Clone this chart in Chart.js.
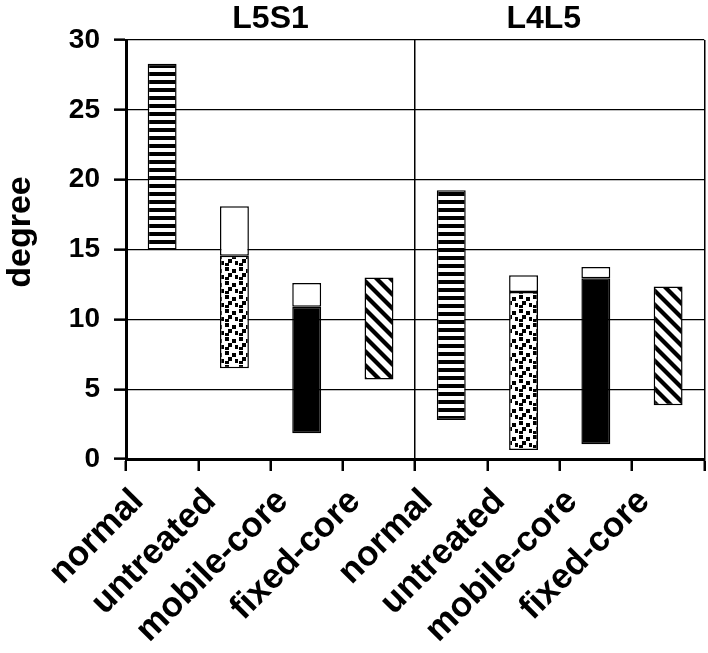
<!DOCTYPE html>
<html><head><meta charset="utf-8">
<script src="https://cdn.jsdelivr.net/npm/chart.js@4"></script>
<style>html,body{margin:0;padding:0;background:#fff}#wrap{width:708px;height:653px}</style>
</head><body><div id="wrap"><canvas id="c" width="708" height="653"></canvas></div>
<script>
// ---- data ----
const categories = ['normal','untreated','mobile-core','fixed-core','normal','untreated','mobile-core','fixed-core'];
const groupTitles = ['L5S1','L4L5'];
const lowValues  = [15.0, 6.5, 1.85, 5.7, 2.8, 0.65, 1.05, 3.85];
const midValues  = [28.3, 14.55, 10.9, 13.0, 19.25, 11.95, 12.95, 12.35];
const highValues = [null, 18.1, 12.6, null, null, 13.15, 13.75, null];
const yTickValues = [0, 5, 10, 15, 20, 25, 30];
const fillKinds = ['hstripes','dots','solid','diag','hstripes','dots','solid','diag'];
const axisTitle = 'degree';

// ---- fill patterns ----
function makeTile(w, h, draw) {
  const c = document.createElement('canvas'); c.width = w; c.height = h;
  const g = c.getContext('2d'); g.fillStyle = '#fff'; g.fillRect(0, 0, w, h);
  g.fillStyle = '#000'; g.strokeStyle = '#000'; draw(g, w, h);
  return document.getElementById('c').getContext('2d').createPattern(c, 'repeat');
}
const patterns = {
  hstripes: makeTile(8, 8, g => { g.fillRect(0, 0, 8, 4); }),
  dots: makeTile(14, 14, g => {
    [[1,1],[8,3],[4,7],[11,9],[1,11]].forEach(p => g.fillRect(p[0], p[1], 4, 4));
  }),
  solid: '#000',
  diag: makeTile(14, 14, g => {
    g.lineWidth = 4.2;
    for (let c = -14; c <= 14; c += 14) { g.beginPath(); g.moveTo(-2, c - 2); g.lineTo(16, c + 16); g.stroke(); }
  })
};

const titlesPlugin = {
  id: 'titles',
  afterDraw(chart) {
    const ctx = chart.ctx, xs = chart.scales.x;
    ctx.save();
    ctx.fillStyle = '#000';
    ctx.font = 'bold 32px "Liberation Sans", Arial, sans-serif';
    ctx.textAlign = 'center'; ctx.textBaseline = 'alphabetic';
    const at = [1.5, 5.28];
    groupTitles.forEach((t, i) => ctx.fillText(t, xs.getPixelForValue(at[i]), 28));
    ctx.font = 'bold 34px "Liberation Sans", Arial, sans-serif';
    ctx.translate(21, 232); ctx.rotate(-Math.PI / 2);
    ctx.textBaseline = 'middle';
    ctx.fillText(axisTitle, 0, 0);
    ctx.restore();
  }
};

new Chart(document.getElementById('c'), {
  type: 'bar',
  data: {
    labels: categories,
    datasets: [
      {
        label: 'range',
        data: categories.map((_, i) => [lowValues[i], midValues[i]]),
        backgroundColor: fillKinds.map(k => patterns[k]),
        borderColor: '#000', borderWidth: 1.5, borderSkipped: false,
        categoryPercentage: 1, barPercentage: 0.4
      },
      {
        label: 'upper',
        data: categories.map((_, i) => highValues[i] == null ? null : [midValues[i], highValues[i]]),
        backgroundColor: '#fff',
        borderColor: '#000', borderWidth: 1.5, borderSkipped: false,
        categoryPercentage: 1, barPercentage: 0.4
      }
    ]
  },
  options: {
    responsive: false, animation: false,
    layout: { padding: { top: 40, right: 3, left: 0, bottom: 0 } },
    plugins: { legend: { display: false }, tooltip: { enabled: false } },
    scales: {
      x: {
        stacked: true, offset: true,
        grid: {
          offset: true, drawOnChartArea: true,
          color: c => (c.index === 4 || c.index === undefined) ? '#000' : 'rgba(0,0,0,0)',
          lineWidth: 1.5, tickColor: '#000', tickLength: 12, tickWidth: 2.5
        },
        border: { color: '#000', width: 3 },
        ticks: {
          autoSkip: false, maxRotation: 45, minRotation: 45, labelOffset: -24, padding: 10,
          color: '#000', font: { family: '"Liberation Sans", Arial, sans-serif', weight: 'bold', size: 35 }
        },
        afterFit: s => { s.height = 194; }
      },
      y: {
        stacked: false, min: 0, max: 30,
        afterBuildTicks: s => { s.ticks = yTickValues.map(v => ({ value: v })); },
        grid: { color: '#000', lineWidth: 1.3, tickColor: '#000', tickLength: 12, tickWidth: 2.5 },
        border: { color: '#000', width: 3 },
        ticks: {
          padding: 14, color: '#000',
          font: { family: '"Liberation Sans", Arial, sans-serif', weight: 'bold', size: 28 }
        },
        afterFit: s => { s.width = 126; }
      }
    }
  },
  plugins: [titlesPlugin]
});
</script></body></html>
